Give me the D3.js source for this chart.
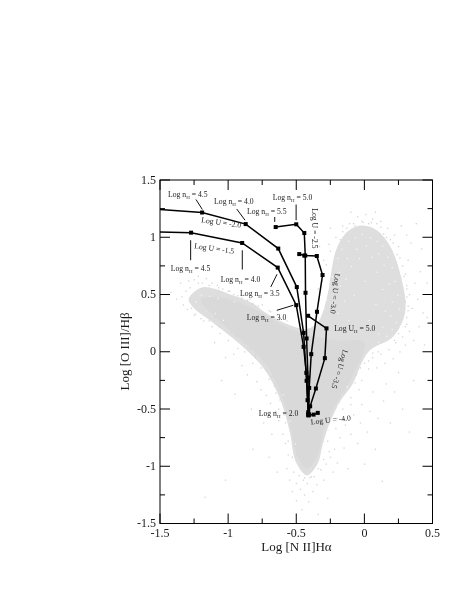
<!DOCTYPE html>
<html><head><meta charset="utf-8"><style>html,body{margin:0;background:#fff}svg{display:block;will-change:transform}text{font-family:"Liberation Serif",serif;fill:#1a1a1a}</style>
<script src="https://cdn.jsdelivr.net/npm/d3@7"></script></head><body><svg id="c" width="458" height="592"></svg>
<script>
const xTicks=[-1.5,-1,-0.5,0,0.5], yTicks=[-1.5,-1,-0.5,0,0.5,1,1.5];
const xMinor=[-1.25,-0.75,-0.25,0.25], yMinor=[-1.25,-0.75,-0.25,0.25,0.75,1.25];
const trackA=[[-1.5,1.045],[-1.272,1.04],[-0.897,0.95],[-0.636,0.735],[-0.5,0.407],[-0.446,0.043],[-0.426,-0.184],[-0.417,-0.423],[-0.41,-0.554]];
const trackB=[[-1.5,1.242],[-1.191,1.216],[-0.871,1.115],[-0.632,0.901],[-0.496,0.565],[-0.446,0.165],[-0.424,-0.254],[-0.412,-0.528]];
const trackC=[[-0.651,1.089],[-0.5,1.113],[-0.441,1.037],[-0.434,0.84],[-0.432,0.515],[-0.424,0.116],[-0.414,-0.225],[-0.41,-0.545]];
const trackD=[[-0.478,0.853],[-0.441,0.84],[-0.349,0.836],[-0.307,0.67],[-0.348,0.349],[-0.39,-0.021],[-0.405,-0.316],[-0.409,-0.545]];
const trackE=[[-0.413,0.314],[-0.278,0.204],[-0.29,-0.056],[-0.356,-0.321],[-0.398,-0.476],[-0.41,-0.554]];
const trackF=[[-0.41,-0.554],[-0.373,-0.549],[-0.342,-0.534]];
const tracks=[trackA,trackB,trackC,trackD,trackE,trackF];
const cloudOutline=[[-1.29,0.46],[-1.2,0.56],[-1.1,0.55],[-0.985,0.5],[-0.83,0.43],[-0.7,0.32],[-0.52,0.22],[-0.42,0.2],[-0.34,0.26],[-0.27,0.5],[-0.24,0.72],[-0.21,0.88],[-0.14,1.03],[-0.04,1.1],[0.08,1.07],[0.19,0.92],[0.27,0.65],[0.3,0.35],[0.21,0.13],[0.03,0],[-0.09,-0.29],[-0.17,-0.42],[-0.26,-0.64],[-0.31,-0.83],[-0.34,-0.97],[-0.42,-1.08],[-0.5,-0.97],[-0.55,-0.69],[-0.61,-0.44],[-0.73,-0.16],[-0.87,0.02],[-1,0.15],[-1.14,0.28],[-1.25,0.38]];
const coreOutline=[[-1.2,0.46],[-1.0,0.46],[-0.8,0.37],[-0.6,0.23],[-0.42,0.15],[-0.2,0.1],[0.0,0.08],[-0.1,-0.24],[-0.2,-0.44],[-0.29,-0.66],[-0.35,-0.92],[-0.42,-1.02],[-0.49,-0.92],[-0.54,-0.67],[-0.6,-0.41],[-0.71,-0.13],[-0.85,0.05],[-1.02,0.22]];
const strays=[[-1.42,0.52],[-1.38,0.46],[-1.35,0.6],[-1.33,0.41],[-1.31,0.53],[-1.29,0.62],[-1.27,0.38],[-1.25,0.63],[-1.24,0.33],[-1.22,0.66],[-1.2,0.29],[-1.19,0.6],[-1.17,0.36],[-1.16,0.64],[-1.14,0.27],[-1.12,0.6],[-1.1,0.3],[-1.08,0.58],[-1.06,0.22],[-1.04,0.55],[-1.02,0.26],[-1,0.53],[-0.98,0.17],[-0.96,0.5],[-0.94,0.14],[-0.92,0.21],[-0.9,0.47],[-0.88,0.08],[-0.86,0.45],[-0.84,0.02],[-0.82,0.42],[-0.8,-0.03],[-0.78,0.08],[-0.75,0.41],[-0.74,-0.09],[-0.72,-0.16],[-0.7,0.36],[-0.68,-0.22],[-1.1,0.08],[-1.02,-0.05],[-0.96,-0.02],[-0.9,-0.12],[-0.86,-0.2],[-0.82,-0.1],[-0.79,-0.26],[-0.76,-0.33],[-0.72,-0.38],[-0.69,-0.45],[-0.66,-0.3],[-0.65,-0.52],[-0.63,-0.6],[-0.62,-0.42],[-0.6,-0.72],[-0.59,-0.55],[-0.58,-0.8],[-0.56,-0.9],[-0.68,-0.72],[-0.74,-0.62],[-0.83,-0.5],[-0.95,-0.37],[-1.05,-0.25],[-0.7,-0.92],[-0.82,-0.85],[-1.17,-1.27],[-1.02,-1.12],[-0.64,-1.05],[-0.57,-1.02],[-0.55,-1.12],[-0.53,-1.22],[-0.52,-1.05],[-0.5,-1.15],[-0.5,-1.3],[-0.48,-1.08],[-0.47,-1.2],[-0.46,-1.38],[-0.45,-1.12],[-0.44,-1.25],[-0.42,-1.15],[-0.41,-1.31],[-0.4,-1.1],[-0.38,-1.22],[-0.37,-1.09],[-0.35,-1.16],[-0.34,-1.42],[-0.32,-1.03],[-0.3,-1.12],[-0.28,-0.98],[-0.27,-1.28],[-0.25,-0.92],[-0.23,-1.05],[-0.22,-0.85],[-0.2,-0.97],[-0.18,-0.75],[-0.15,-0.84],[-0.14,-0.64],[-0.12,-1.02],[-0.1,-0.72],[-0.08,-0.55],[-0.05,-0.8],[-0.03,-0.62],[-0.02,-0.46],[0,-0.98],[0.02,-0.7],[0.04,-0.52],[0.06,-0.35],[0.08,-0.85],[0.1,-0.58],[0.13,-1.13],[0.14,-0.43],[0.16,-0.28],[0.19,-0.62],[0.22,-0.35],[0.25,-0.18],[0.28,-0.5],[0.33,-0.7],[0.36,-0.25],[-0.15,-0.35],[-0.1,-0.4],[-0.06,-0.2],[-0.02,-0.25],[0,-0.1],[0.03,-0.15],[0.06,-0.05],[0.09,-0.14],[0.12,-0.02],[0.15,-0.1],[0.18,0.02],[0.21,-0.06],[0.23,0.08],[0.26,0],[0.28,0.13],[0.3,0.06],[0.33,0.18],[0.36,0.1],[0.4,0.22],[0.44,0.06],[0.31,0.3],[0.32,0.4],[0.31,0.24],[0.33,0.5],[0.35,0.38],[0.37,0.6],[0.39,0.46],[0.41,0.7],[0.43,0.34],[0.31,0.55],[0.3,0.68],[0.32,0.8],[0.28,0.75],[0.34,0.95],[0.25,0.92],[0.22,1.02],[0.19,0.98],[0.17,1.08],[0.14,1.03],[0.12,1.14],[0.09,1.12],[0.06,1.16],[0.03,1.12],[0.01,1.2],[-0.02,1.14],[-0.05,1.18],[-0.08,1.12],[-0.11,1.12],[-0.13,1.08],[-0.16,1.05],[-0.18,0.98],[-0.21,1],[-0.25,0.88],[-0.26,0.94],[-0.28,0.76],[-0.3,0.8],[-0.31,0.62],[-0.34,0.55],[-0.25,1.08],[-0.33,0.92],[0.27,1.1],[0.38,1.12],[0.31,1.02],[0.42,0.9],[0.46,0.6],[0.46,0.3],
[0.26,0.82],[0.24,0.85],[0.31,0.48],[0.29,0.66],[0.3,0.44],[0.31,0.58],[0.3,0.22],[0.32,0.36],[0.21,0.95],[0.16,1.0],[0.12,1.09],[0.05,1.13],[-0.01,1.13],[-0.07,1.1],[-0.16,1.1],[0.08,1.22],[-0.1,1.22],[0.22,0.1],[0.25,0.16],[0.1,0.0],[0.06,-0.01],[0.03,-0.08],[-0.03,-0.14],[-0.07,-0.27],[-0.04,-0.33],[-0.1,-0.46],[-0.16,-0.5],[-0.2,-0.58],[-0.21,-0.67],[-0.27,-0.78],[-0.26,-0.87],[-0.3,-0.94],[-0.34,-1.02],[-0.39,-1.09],[-0.44,-1.1],[-0.53,-0.92],[-0.56,-0.78],[-0.58,-0.62],[-0.63,-0.5],[-0.65,-0.36],[-0.7,-0.24],[-0.76,-0.14],[-0.8,-0.05],[-0.88,0],[-0.93,0.03],[-1,0.1],[-1.06,0.16],[-1.12,0.22],[-1.18,0.27],[-1.25,0.32],[-1.3,0.37],[-1.34,0.48],[-1.28,0.56],[-1.22,0.6],[-1.14,0.58],[-1.07,0.56],[-0.99,0.53],[-0.93,0.49],[-0.84,0.46],[-0.78,0.4],[-0.69,0.35],[-0.62,0.3],[-0.57,0.27]];
const cloudGaps=[[-0.2,0.82],[-0.17,0.9],[-0.12,0.97],[-0.07,1.0],[-0.02,1.03],[0.04,1.0],[0.09,0.97],[0.13,0.93],[0.17,0.83],[0.2,0.74],[0.22,0.62],[0.24,0.5],[0.25,0.38],[0.23,0.26],[0.2,0.2],[0.16,0.14],[0.1,0.09],[-0.24,0.66],[-0.28,0.46],[-0.3,0.38],[-0.33,0.3],[-0.19,0.7],[-0.13,0.82],[-0.06,0.9],[0.01,0.93],[0.1,0.86],[0.14,0.76],[0.18,0.6],[0.2,0.44],[0.19,0.32],[0.13,0.22],[-0.22,0.55],[-0.18,0.58],[-0.25,0.42],[-0.14,0.64],[-0.1,0.75],[-0.04,0.82],[0.05,0.83],[0.09,0.7],[0.13,0.55],[0.15,0.36],[0.08,0.42],[0,0.62],[-0.08,0.5],[-0.15,0.45],[0.03,0.28],[-0.12,0.28],[-0.2,0.34],[0.1,0.16],[-1.2,0.5],[-1.14,0.49],[-1.08,0.47],[-1.24,0.44],[-1.17,0.36],[-1.1,0.34],[-1.04,0.28],[-0.96,0.44],[-0.6,-0.37],[-0.55,-0.6],[-0.51,-0.8],[-0.13,-0.3],[-0.2,-0.46],[-0.27,-0.68],[-0.31,-0.8]];
const labels=[["Log n","H"," = 4.5",-1.441,1.35,0],["Log n","H"," = 4.0",-1.103,1.288,0],["Log n","H"," = 5.5",-0.861,1.2,0],["Log n","H"," = 5.0",-0.672,1.323,0],["Log n","H"," = 4.5",-1.421,0.703,0],["Log n","H"," = 4.0",-1.054,0.607,0],["Log n","H"," = 3.5",-0.912,0.484,0],["Log n","H"," = 3.0",-0.863,0.274,0],["Log U","H"," = 5.0",-0.222,0.178,0],["Log n","H"," = 2.0",-0.775,-0.565,0],["Log U = -2.0","","",-1.199,1.131,8],["Log U = -1.5","","",-1.25,0.904,8],["Log U = -4.0","","",-0.391,-0.635,-6],["Log U = -2.5","","",-0.384,1.253,90],["Log U = -3.0","","",-0.215,0.685,97],["Log U = -3.5","","",-0.156,0.021,107]];
const leaders=[[[-1.236,1.33],[-1.189,1.242]],[[-0.937,1.247],[-0.876,1.149]],[[-0.658,1.177],[-0.658,1.134]],[[-0.501,1.286],[-0.501,1.149]],[[-1.275,0.974],[-1.275,0.799]],[[-0.896,0.886],[-0.896,0.718]],[[-0.641,0.677],[-0.687,0.566]],[[-0.643,0.362],[-0.521,0.406]]];
const svg=d3.select("#c");
const x=d3.scaleLinear().domain([-1.5,0.5]).range([160,432.5]);
const y=d3.scaleLinear().domain([-1.5,1.5]).range([523.5,180]);
const line=d3.line().x(d=>x(d[0])).y(d=>y(d[1]));
svg.append("path").attr("d",line.curve(d3.curveCatmullRomClosed)(cloudOutline)).attr("fill","#dedede");
svg.append("path").attr("d",line.curve(d3.curveCatmullRomClosed)(coreOutline)).attr("fill","#d9d9d9");
line.curve(d3.curveLinear);
svg.append("g").selectAll("rect").data(cloudGaps).join("rect").attr("x",d=>x(d[0])).attr("y",d=>y(d[1])).attr("width",1.3).attr("height",1.3).attr("fill","#f4f4f4");
svg.append("g").selectAll("rect").data(strays).join("rect").attr("x",d=>x(d[0])-.5).attr("y",d=>y(d[1])-.5).attr("width",1.3).attr("height",1.3).attr("fill","#d4d4d4");
svg.append("rect").attr("x",x(-1.5)).attr("y",y(1.5)).attr("width",x(.5)-x(-1.5)).attr("height",y(-1.5)-y(1.5)).attr("fill","none").attr("stroke","#000").attr("stroke-width",1);
function ticks(g,vals,len){vals.forEach(v=>{
 if(g==="x"){[[y(-1.5),-len],[y(1.5),len]].forEach(([b,l])=>svg.append("line").attr("x1",x(v)).attr("x2",x(v)).attr("y1",b).attr("y2",b+l).attr("stroke","#000"));}
 else{[[x(-1.5),len],[x(.5),-len]].forEach(([b,l])=>svg.append("line").attr("y1",y(v)).attr("y2",y(v)).attr("x1",b).attr("x2",b+l).attr("stroke","#000"));}
});}
ticks("x",xTicks,10);ticks("x",xMinor,5);ticks("y",yTicks,10);ticks("y",yMinor,5);
xTicks.forEach(v=>svg.append("text").attr("x",x(v)).attr("y",536.5).attr("text-anchor","middle").attr("font-size",12).text(v));
yTicks.forEach(v=>svg.append("text").attr("x",156).attr("y",y(v)+3.5).attr("text-anchor","end").attr("font-size",12).text(v));
svg.append("text").attr("x",296.5).attr("y",551).attr("text-anchor","middle").attr("font-size",13).text("Log [N II]Hα");
svg.append("text").attr("transform","translate(129,351.5) rotate(-90)").attr("text-anchor","middle").attr("font-size",13).text("Log [O III]/Hβ");
tracks.forEach(t=>{svg.append("path").attr("d",line(t)).attr("fill","none").attr("stroke","#000").attr("stroke-width",1.5);
 svg.append("g").selectAll("rect").data(t.filter(d=>d[0]>-1.5)).join("rect").attr("x",d=>x(d[0])-2).attr("y",d=>y(d[1])-2).attr("width",4).attr("height",4).attr("fill","#000");});
leaders.forEach(l=>svg.append("path").attr("d",line(l)).attr("stroke","#111").attr("fill","none"));
labels.forEach(([a,s,b,lx,ly,r])=>{const t=svg.append("text").attr("transform",`translate(${x(lx)},${y(ly)}) rotate(${r})`).attr("font-size",7.7).text(a);
 if(s){t.append("tspan").attr("font-size",5).attr("dy",2).text(s);t.append("tspan").attr("dy",-2).text(b);}});
</script></body></html>
